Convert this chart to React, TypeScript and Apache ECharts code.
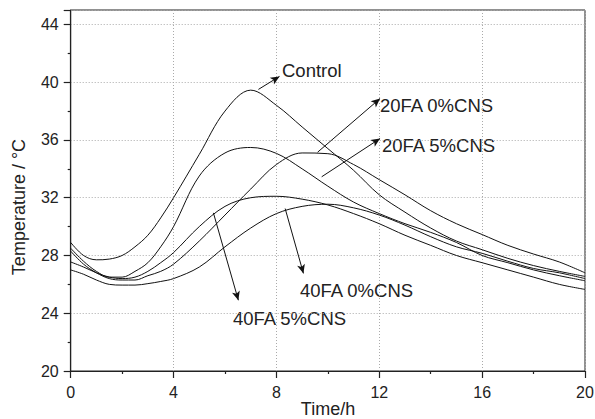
import React, { useEffect, useRef } from "react";
import * as echarts from "echarts";

const hours = [0, 0.5, 1, 1.5, 2, 2.5, 3, 3.5, 4, 5, 6, 7, 8, 9, 10, 11, 12, 13, 14, 15, 16, 17, 18, 19, 20];
const control = [28.9, 28.0, 27.7, 27.75, 28.0, 28.6, 29.4, 30.6, 32.0, 35.0, 38.0, 39.45, 38.4, 36.9, 35.4, 33.9, 32.2, 31.0, 29.9, 29.0, 28.4, 27.8, 27.3, 26.9, 26.55];
const fa20cns5 = [28.5, 27.6, 26.9, 26.5, 26.5, 26.9, 27.5, 28.6, 30.0, 33.5, 35.1, 35.48, 35.07, 34.0, 32.8, 31.7, 30.9, 30.2, 29.6, 28.9, 28.0, 27.5, 27.0, 26.6, 26.25];
const fa20cns0 = [28.3, 27.4, 26.8, 26.4, 26.3, 26.3, 26.6, 26.9, 27.4, 29.0, 30.8, 32.6, 34.3, 35.1, 35.05, 34.3, 33.25, 32.2, 31.1, 30.2, 29.45, 28.7, 28.1, 27.55, 26.8];
const fa40cns5 = [27.55, 27.2, 26.8, 26.5, 26.4, 26.5, 26.9, 27.5, 28.2, 30.0, 31.4, 32.0, 32.1, 31.9, 31.5, 30.9, 30.2, 29.4, 28.7, 28.0, 27.5, 27.0, 26.5, 26.0, 25.65];
const fa40cns0 = [27.0, 26.7, 26.3, 26.0, 25.95, 25.95, 26.05, 26.2, 26.4, 27.2, 28.6, 29.9, 30.9, 31.4, 31.55, 31.3, 30.8, 30.1, 29.3, 28.6, 28.15, 27.6, 27.1, 26.8, 26.4];

const xTicks = [0, 4, 8, 12, 16, 20];
const yTicks = [20, 24, 28, 32, 36, 40, 44];

// arrows: [start x, start y, end x, end y]
const arrowControl = [7.3, 39.5, 8.12, 40.4];
const arrow20cns0 = [9.6, 35.15, 12.03, 38.87];
const arrow20cns5 = [9.76, 33.45, 12.03, 36.1];
const arrow40cns5 = [5.55, 30.95, 6.52, 24.9];
const arrow40cns0 = [8.34, 31.25, 9.05, 26.76];

const labels = ["Control", "20FA 0%CNS", "20FA 5%CNS", "40FA 5%CNS", "40FA 0%CNS"];
const yName = "Temperature / \u00b0C";
const xName = "Time/h";

const FONT = "Liberation Sans, Arial, sans-serif";

function pairs(ys: number[]) {
  return hours.map((h, i) => [h, ys[i]]);
}

function arrowLine(a: number[]) {
  return [{ coord: [a[0], a[1]] }, { coord: [a[2], a[3]] }];
}

export default function App() {
  const ref = useRef<HTMLDivElement>(null);
  useEffect(() => {
    if (!ref.current) return;
    document.body.style.margin = "0";
    const chart = echarts.init(ref.current, null, { renderer: "svg" });
    const lineStyle = { color: "#111", width: 1 };
    const mkSeries = (name: string, ys: number[], arrow: number[]) => ({
      name,
      type: "line",
      data: pairs(ys),
      smooth: 0.35,
      showSymbol: false,
      symbol: "none",
      lineStyle,
      itemStyle: { color: "#111" },
      silent: true,
      markLine: {
        silent: true,
        symbol: ["none", "arrow"],
        symbolSize: [6, 9],
        label: { show: false },
        lineStyle: { color: "#111", width: 1, type: "solid" },
        data: [arrowLine(arrow)],
      },
    });
    const annot = (text: string, x: number, y: number) => ({
      type: "text",
      x,
      y,
      style: { text, fontSize: 18.5, fill: "#222", fontFamily: FONT, verticalAlign: "middle", align: "left" },
    });
    chart.setOption({
      animation: false,
      backgroundColor: "#fff",
      textStyle: { fontFamily: FONT },
      grid: {
        left: 70.7,
        right: 10,
        top: 10,
        bottom: 48,
        show: true,
        borderColor: "#222",
        borderWidth: 1,
        containLabel: false,
        outerBoundsMode: "none",
      },
      xAxis: {
        type: "value",
        min: 0,
        max: 20,
        interval: 4,
        axisLine: { lineStyle: { color: "#222", width: 1.2 } },
        axisTick: { inside: false, length: 7, lineStyle: { color: "#222", width: 1.2 } },
        minorTick: { show: true, splitNumber: 2, length: 3, lineStyle: { color: "#222", width: 1.2 } },
        axisLabel: {
          fontSize: 16,
          color: "#222",
          margin: 13,
          fontFamily: FONT,
          formatter: (v: number) => (xTicks.indexOf(v) >= 0 ? String(v) : ""),
        },
        splitLine: { show: true, lineStyle: { type: [1, 2], color: "#aaa", width: 1 } },
      },
      yAxis: {
        type: "value",
        min: 20,
        max: 45,
        interval: 4,
        axisLine: { show: true, lineStyle: { color: "#222", width: 1.2 } },
        axisTick: { show: true, inside: false, length: 7, lineStyle: { color: "#222", width: 1.2 } },
        minorTick: { show: true, splitNumber: 2, length: 3, lineStyle: { color: "#222", width: 1.2 } },
        axisLabel: {
          fontSize: 16,
          color: "#222",
          margin: 12,
          fontFamily: FONT,
          showMaxLabel: false,
          formatter: (v: number) => (yTicks.indexOf(v) >= 0 ? String(v) : ""),
        },
        splitLine: { show: true, lineStyle: { type: [1, 2], color: "#aaa", width: 1 } },
      },
      series: [
        mkSeries(labels[0], control, arrowControl),
        mkSeries(labels[1], fa20cns0, arrow20cns0),
        mkSeries(labels[2], fa20cns5, arrow20cns5),
        mkSeries(labels[3], fa40cns5, arrow40cns5),
        mkSeries(labels[4], fa40cns0, arrow40cns0),
      ],
      graphic: [
        annot(labels[0], 282, 70),
        annot(labels[1], 380, 105),
        annot(labels[2], 382, 145),
        annot(labels[3], 233, 318),
        annot(labels[4], 300, 290),
        {
          type: "text",
          x: 18.5,
          y: 207,
          rotation: Math.PI / 2,
          style: { text: yName, fontSize: 18, fill: "#222", fontFamily: FONT, align: "center", verticalAlign: "middle" },
        },
        {
          type: "text",
          x: 328,
          y: 409,
          style: { text: xName, fontSize: 18, fill: "#222", fontFamily: FONT, align: "center", verticalAlign: "middle" },
        },
      ],
    });
    return () => chart.dispose();
  }, []);
  return <div ref={ref} style={{ width: 595, height: 419 }} />;
}
